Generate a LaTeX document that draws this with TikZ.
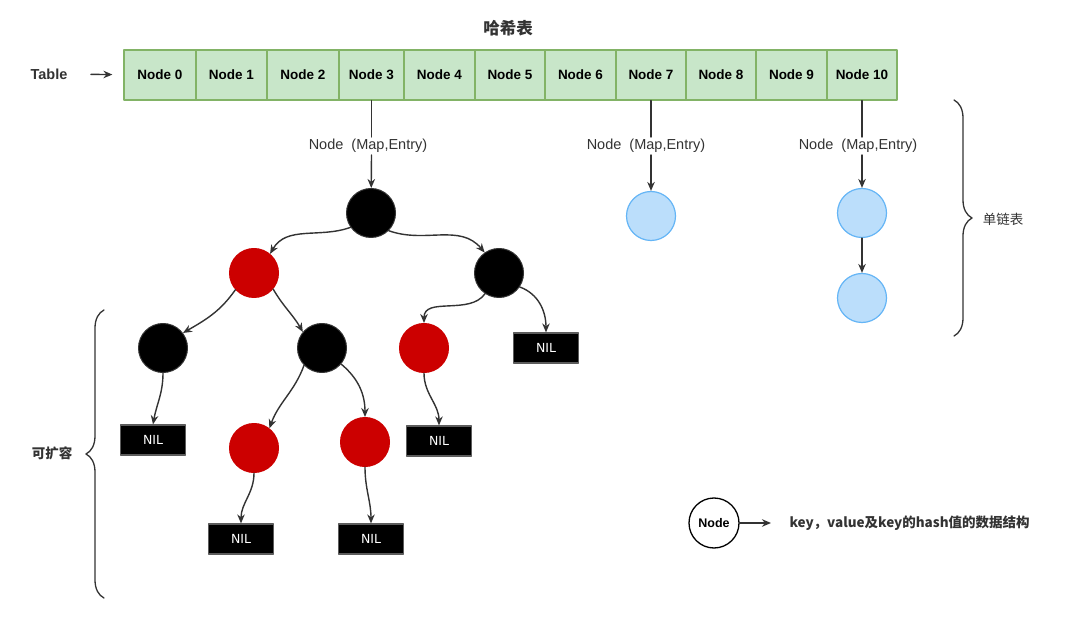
\documentclass[tikz,border=0pt]{standalone}
\usepackage{fontspec}
\setmainfont{Liberation Sans}
\newfontfamily\cjk{Noto Sans CJK SC}
\newfontfamily\nilfont{DejaVu Sans}
\usetikzlibrary{arrows.meta,decorations.pathreplacing}
\definecolor{cellfill}{HTML}{C8E6C9}
\definecolor{cellline}{HTML}{82B366}
\definecolor{rbred}{HTML}{CC0000}
\definecolor{listfill}{HTML}{BBDEFB}
\definecolor{listline}{HTML}{64B5F6}
\definecolor{edgegray}{HTML}{333333}
\begin{document}
\begin{tikzpicture}[x=1pt,y=-1pt,line join=round,line cap=round,>={Stealth[length=9pt,width=7.5pt]},
	cell/.style={draw=cellline,fill=cellfill,line width=1.2pt,minimum height=50pt,inner sep=0pt,font=\fontsize{13.5}{15}\selectfont\bfseries},
	rbnode/.style={circle,minimum size=49pt,inner sep=0pt,line width=1pt},
	blacknode/.style={rbnode,fill=black,draw=edgegray},
	rednode/.style={rbnode,fill=rbred,draw=rbred},
	listnode/.style={rbnode,fill=listfill,draw=listline,line width=1.2pt},
	nilbox/.style={draw=edgegray!80,fill=black,text=white,minimum width=65pt,minimum height=30pt,inner sep=0pt,line width=1.2pt,font=\nilfont\fontsize{12.5}{14}\selectfont},
	edge/.style={->,draw=edgegray,line width=1.4pt},
	mapentry/.style={font=\fontsize{14.5}{16}\selectfont,text=edgegray,inner sep=2pt},
	cjklabel/.style={font=\cjk\fontsize{13.5}{16}\selectfont,text=edgegray}]
	\useasboundingbox[fill=white] (0,0) rectangle (1066,620);
	% hash table
	\node[font=\cjk\bfseries\fontsize{16.5}{19}\selectfont,text=edgegray] (title) at (508,28) {哈希表};
	\foreach \i/\a/\b [evaluate=\a as \w using \b-\a, evaluate=\a as \m using (\a+\b)/2] in {0/124/196,1/196/267,2/267/339,3/339/404,4/404/475,5/475/545,6/545/616,7/616/686,8/686/756,9/756/827,10/827/897}
		\node[cell,minimum width=\w pt] (c\i) at (\m,75) {Node \i};
	\node[font=\fontsize{14.5}{16}\selectfont\bfseries,text=edgegray] (tbl) at (49,74) {Table};
	\draw[edge,shorten <=20pt,shorten >=11pt] (tbl) -- (c0);
	% entries
	\node[mapentry] (m3) at (368,146) {Node\ \ (Map,Entry)};
	\node[mapentry] (m7) at (646,146) {Node\ \ (Map,Entry)};
	\node[mapentry] (m10) at (858,146) {Node\ \ (Map,Entry)};
	% red-black tree
	\node[blacknode] (root) at (371,213) {};
	\node[rednode] (r1) at (254,273) {};
	\node[blacknode] (b1) at (499,273) {};
	\node[blacknode] (bl) at (163,348) {};
	\node[blacknode] (br) at (322,348) {};
	\node[rednode] (rr) at (424,348) {};
	\node[nilbox] (n1) at (546,348) {NIL};
	\node[nilbox] (n2) at (153,440) {NIL};
	\node[rednode] (rbl) at (254,448) {};
	\node[rednode] (rbr) at (365,442) {};
	\node[nilbox] (n3) at (439,441) {NIL};
	\node[nilbox] (n4) at (241,539) {NIL};
	\node[nilbox] (n5) at (371,539) {NIL};
	% single linked lists
	\node[listnode] (l7) at (651,216) {};
	\node[listnode] (l10a) at (862,213) {};
	\node[listnode] (l10b) at (862,298) {};
	\draw[draw=edgegray,line width=1.4pt] (c3.south) -- (c3.south |- m3.north);
	\draw[edge] (c3.south |- m3.south) -- (root);
	\draw[draw=edgegray,line width=1.4pt] (c7.south) -- (c7.south |- m7.north);
	\draw[edge] (c7.south |- m7.south) -- (l7);
	\draw[draw=edgegray,line width=1.4pt] (c10.south) -- (c10.south |- m10.north);
	\draw[edge] (c10.south |- m10.south) -- (l10a);
	\draw[edge] (l10a) -- (l10b);
	\draw[edge] (root.215) to[out=200,in=60] (r1.50);
	\draw[edge] (root.-45) to[out=-20,in=130] (b1.125);
	\draw[edge] (r1.222) to[out=235,in=30] (bl.37);
	\draw[edge] (r1.-40) to[out=-60,in=120] (br.140);
	\draw[edge] (b1.236) to[out=235,in=90] (rr.north);
	\draw[edge] (b1.-34) to[out=-20,in=90] (n1.north);
	\draw[edge] (bl.south) to[out=-90,in=80] (n2.north);
	\draw[edge] (br.224) to[out=250,in=70] (rbl.52);
	\draw[edge] (br.-40) to[out=-40,in=90] (rbr.north);
	\draw[edge] (rr.south) to[out=-90,in=90] (n3.north);
	\draw[edge] (rbl.south) to[out=-90,in=90] (n4.north);
	\draw[edge] (rbr.south) to[out=-90,in=90] (n5.north);
	% braces
	\draw[draw=edgegray,line width=1.3pt,decorate,decoration={brace,amplitude=18pt}] (104,598) -- (104,310);
	\node[cjklabel,font=\cjk\bfseries\fontsize{13.5}{16}\selectfont] (grow) at (52,453) {可扩容};
	\draw[draw=edgegray,line width=1.3pt,decorate,decoration={brace,amplitude=18pt}] (954,100) -- (954,336);
	\node[cjklabel] (chain) at (1003,219) {单链表};
	% legend
	\node[circle,draw=black,line width=1.3pt,minimum size=50pt,inner sep=0pt,font=\fontsize{12.5}{14}\selectfont\bfseries] (leg) at (714,523) {Node};
	\node[cjklabel,font=\cjk\bfseries\fontsize{13.5}{16}\selectfont,anchor=west] (desc) at (786,523) {key，value及key的hash值的数据结构};
	\draw[edge] (leg) -- ([xshift=-15pt]desc.west);
\end{tikzpicture}
\end{document}
